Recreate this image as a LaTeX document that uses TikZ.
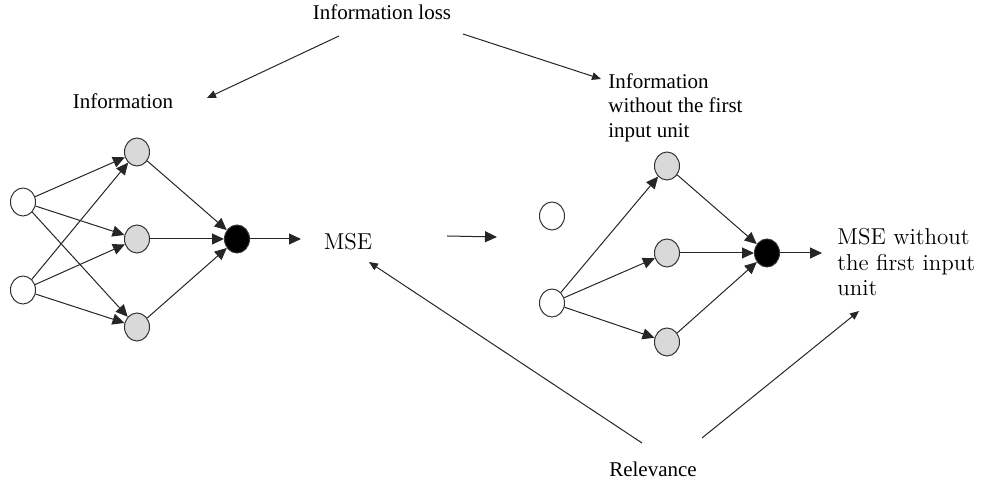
\documentclass[tikz,border=0pt]{standalone}
\usepackage{fontspec}
\setmainfont{Liberation Serif}
\newfontfamily\cmfont{Latin Modern Roman}
\usetikzlibrary{arrows.meta,shapes.geometric}

\begin{document}
\begin{tikzpicture}[x=0.5pt,y=-0.5pt,
    unit/.style={ellipse,draw=black!80,line width=0.5pt,inner sep=0pt,
      minimum width=12.5pt,minimum height=14pt},
    inunit/.style={unit,fill=white},
    hidunit/.style={unit,fill=gray!30},
    outunit/.style={unit,fill=black},
    link/.style={draw=black!85,line width=0.5pt,
      -{Triangle[length=6pt,width=5.5pt]}},
    thin link/.style={draw=black!85,line width=0.5pt,
      -{Triangle[length=4.5pt,width=3.8pt]}},
    lbl/.style={font=\fontsize{10.5}{12.3}\selectfont,inner sep=0pt,align=left},
    mse/.style={font=\cmfont\fontsize{11.5}{12.8}\selectfont,inner sep=0pt,align=left}]
    \useasboundingbox (0,0) rectangle (982,485);

    % left network
    \node[inunit] (li1) at (23,202) {};
    \node[inunit] (li2) at (23,290) {};
    \node[hidunit] (lh1) at (137,152) {};
    \node[hidunit] (lh2) at (137,239) {};
    \node[hidunit] (lh3) at (137,327) {};
    \node[outunit] (lo) at (237,239) {};
    \coordinate (lend) at (301,239);

    \foreach \i in {li1,li2}
      \foreach \h in {lh1,lh2,lh3}
        \draw[link] (\i) -- (\h);
    \foreach \h in {lh1,lh2,lh3}
      \draw[link] (\h) -- (lo);
    \draw[link] (lo) -- (lend);

    \node[mse] (lmse) at (348,242) {MSE};
    \coordinate (sa) at (447,236);
    \coordinate (sb) at (497,237);
    \draw[link] (sa) -- (sb);

    % right network
    \node[inunit] (ri1) at (552,216) {};
    \node[inunit] (ri2) at (552,303) {};
    \node[hidunit] (rh1) at (667,166) {};
    \node[hidunit] (rh2) at (667,253) {};
    \node[hidunit] (rh3) at (667,342) {};
    \node[outunit] (ro) at (767,253) {};
    \coordinate (rend) at (822,253);

    \foreach \h in {rh1,rh2,rh3}{
      \draw[link] (ri2) -- (\h);
      \draw[link] (\h) -- (ro);
    }
    \draw[link] (ro) -- (rend);

    \node[mse,anchor=north west] (rmse) at (837,228)
      {MSE without\\the first input\\unit};

    % labels
    \node[lbl] (loss) at (382,12) {Information loss};
    \node[lbl] (info) at (123,101) {Information};
    \node[lbl,anchor=north west] (infowo) at (608,73)
      {Information\\without the first\\input unit};
    \node[lbl] (rel) at (653,469) {Relevance};

    \coordinate (la) at (339,36);
    \coordinate (lb) at (207,98);
    \coordinate (ra) at (463,34);
    \coordinate (rb) at (601,79);
    \draw[thin link] (la) -- (lb);
    \draw[thin link] (ra) -- (rb);

    \coordinate (ea) at (642,443);
    \coordinate (eb) at (369,262);
    \coordinate (fa) at (702,438);
    \coordinate (fb) at (859,311);
    \draw[thin link] (ea) -- (eb);
    \draw[thin link] (fa) -- (fb);

\end{tikzpicture}
\end{document}
